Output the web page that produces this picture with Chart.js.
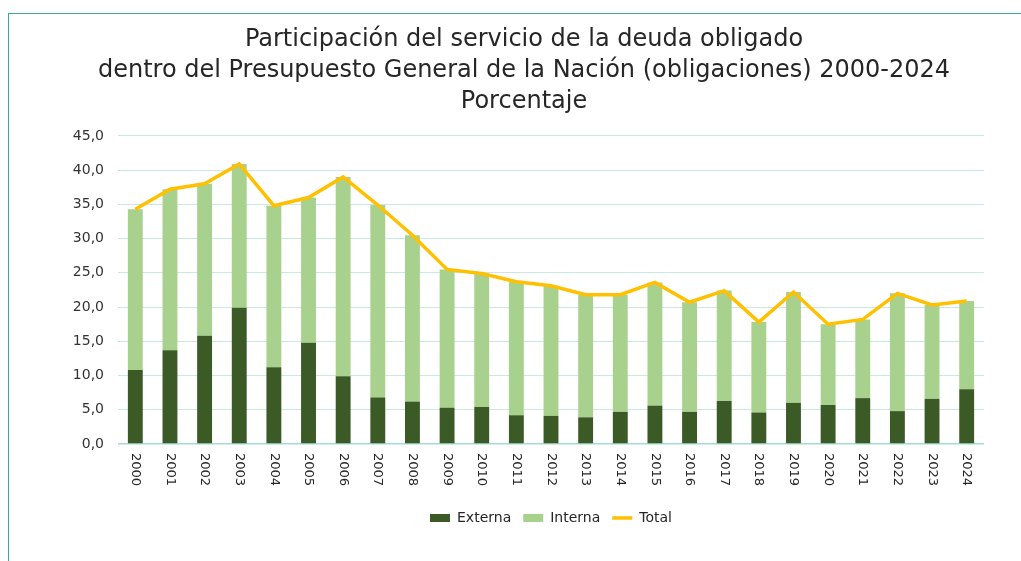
<!DOCTYPE html>
<html>
<head>
<meta charset="utf-8">
<script src="https://cdn.jsdelivr.net/npm/chart.js@4.4.1/dist/chart.umd.min.js"></script>
<style>
    html, body { margin: 0; padding: 0; background: #ffffff; }
    #wrap { position: relative; width: 1021px; height: 561px; overflow: hidden; }
    #chart { position: absolute; left: 0; top: 0; }
    #frame {
        position: absolute; left: 8px; top: 13px; right: -4px; bottom: -4px;
        border-left: 1px solid #3aa99d; border-top: 1px solid #3aa99d;
        pointer-events: none;
    }
</style>
</head>
<body>
<div id="wrap">
    <canvas id="chart" width="1021" height="561"></canvas>
    <div id="frame"></div>
</div>
<script>
const years = ['2000', '2001', '2002', '2003', '2004', '2005', '2006', '2007', '2008', '2009',
    '2010', '2011', '2012', '2013', '2014', '2015', '2016', '2017', '2018', '2019',
    '2020', '2021', '2022', '2023', '2024'];

const externa = [10.8, 13.7, 15.8, 19.9, 11.2, 14.8, 9.9, 6.8, 6.2, 5.3,
    5.4, 4.2, 4.1, 3.9, 4.7, 5.6, 4.7, 6.3, 4.6, 6.0,
    5.7, 6.7, 4.8, 6.6, 8.0];

const interna = [23.5, 23.5, 22.2, 21.0, 23.6, 21.2, 29.1, 28.1, 24.3, 20.2,
    19.5, 19.5, 19.0, 17.9, 17.1, 18.0, 16.0, 16.1, 13.2, 16.2,
    11.8, 11.5, 17.2, 13.7, 12.9];

const total = [34.3, 37.2, 38.0, 40.9, 34.8, 36.0, 39.0, 34.9, 30.5, 25.5,
    24.9, 23.7, 23.1, 21.8, 21.8, 23.6, 20.7, 22.4, 17.8, 22.2,
    17.5, 18.2, 22.0, 20.3, 20.9];

const titleLines = [
    'Participación del servicio de la deuda obligado',
    'dentro del Presupuesto General de la Nación (obligaciones) 2000-2024',
    'Porcentaje'
];

const FONT = '"DejaVu Sans", "Liberation Sans", Arial, sans-serif';

// year labels read top-to-bottom (rotated clockwise), which Chart.js ticks can't do
const verticalYearLabels = {
    id: 'verticalYearLabels',
    afterDraw(chart) {
        const xScale = chart.scales.x;
        const ctx = chart.ctx;
        ctx.save();
        ctx.font = '13px ' + FONT;
        ctx.fillStyle = '#262626';
        ctx.textAlign = 'left';
        ctx.textBaseline = 'middle';
        years.forEach((year, i) => {
            ctx.save();
            ctx.translate(xScale.getPixelForTick(i), chart.chartArea.bottom + 9);
            ctx.rotate(Math.PI / 2);
            ctx.fillText(year, 0, 0);
            ctx.restore();
        });
        ctx.restore();
    }
};

const ctx = document.getElementById('chart').getContext('2d');

new Chart(ctx, {
    type: 'bar',
    data: {
        labels: years,
        datasets: [{
            label: 'Externa',
            data: externa,
            backgroundColor: '#3b5a26',
            borderWidth: 0,
            pointStyle: 'rect',
            categoryPercentage: 1,
            barPercentage: 0.43,
            order: 1
        }, {
            label: 'Interna',
            data: interna,
            backgroundColor: '#a9d18e',
            borderWidth: 0,
            pointStyle: 'rect',
            categoryPercentage: 1,
            barPercentage: 0.43,
            order: 1
        }, {
            type: 'line',
            label: 'Total',
            data: total,
            borderColor: '#ffc000',
            backgroundColor: '#ffc000',
            borderWidth: 3.5,
            pointRadius: 0,
            pointStyle: 'line',
            tension: 0,
            order: 0
        }]
    },
    options: {
        responsive: false,
        animation: false,
        layout: {
            padding: { left: 64, right: 37, top: 0, bottom: 26 }
        },
        plugins: {
            title: {
                display: true,
                text: titleLines,
                color: '#262626',
                font: { family: FONT, size: 24, weight: 'normal', lineHeight: 1.29 },
                padding: { top: 24, bottom: 19 }
            },
            legend: {
                position: 'bottom',
                fullSize: false,
                labels: {
                    color: '#262626',
                    font: { family: FONT, size: 14 },
                    usePointStyle: true,
                    pointStyleWidth: 20,
                    boxWidth: 20,
                    boxHeight: 8,
                    padding: 12,
                    sort: (a, b) => a.datasetIndex - b.datasetIndex
                }
            },
            tooltip: { enabled: false }
        },
        scales: {
            x: {
                stacked: true,
                grid: { display: false },
                border: { display: false },
                ticks: { display: false },
                afterFit(scale) {
                    scale.height = 55;
                }
            },
            y: {
                stacked: true,
                min: 0,
                max: 45,
                grid: {
                    color: c => c.tick.value === 0 ? '#a6dbd4' : '#c9e7e3',
                    lineWidth: c => c.tick.value === 0 ? 1.5 : 1,
                    drawTicks: false
                },
                border: { display: false },
                ticks: {
                    stepSize: 5,
                    padding: 14,
                    color: '#333333',
                    font: { family: FONT, size: 14 },
                    callback: value => value.toFixed(1).replace('.', ',')
                },
                afterFit(scale) {
                    scale.width = 54;
                }
            }
        }
    },
    plugins: [verticalYearLabels]
});
</script>
</body>
</html>
